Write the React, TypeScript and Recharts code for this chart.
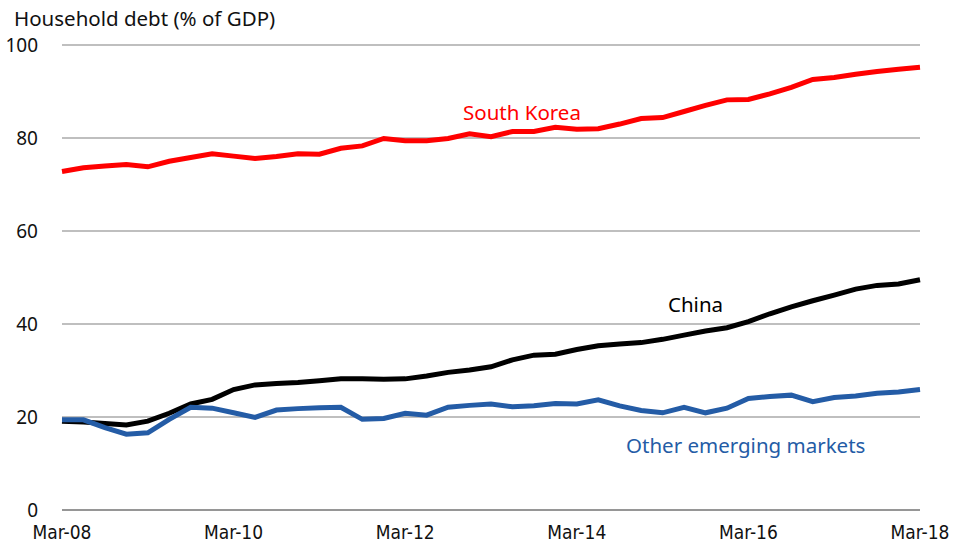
import { LineChart, Line, XAxis, YAxis, CartesianGrid } from 'recharts';

const quarters = [
  'Mar-08', 'Jun-08', 'Sep-08', 'Dec-08',
  'Mar-09', 'Jun-09', 'Sep-09', 'Dec-09',
  'Mar-10', 'Jun-10', 'Sep-10', 'Dec-10',
  'Mar-11', 'Jun-11', 'Sep-11', 'Dec-11',
  'Mar-12', 'Jun-12', 'Sep-12', 'Dec-12',
  'Mar-13', 'Jun-13', 'Sep-13', 'Dec-13',
  'Mar-14', 'Jun-14', 'Sep-14', 'Dec-14',
  'Mar-15', 'Jun-15', 'Sep-15', 'Dec-15',
  'Mar-16', 'Jun-16', 'Sep-16', 'Dec-16',
  'Mar-17', 'Jun-17', 'Sep-17', 'Dec-17',
  'Mar-18',
];

const southKorea = [
  72.8, 73.6, 74.0, 74.3, 73.8, 75.0, 75.8, 76.6, 76.1, 75.6,
  76.0, 76.6, 76.5, 77.8, 78.3, 79.9, 79.4, 79.4, 79.9, 80.9,
  80.3, 81.4, 81.4, 82.3, 81.9, 82.0, 83.0, 84.2, 84.4, 85.7,
  87.0, 88.2, 88.3, 89.5, 90.9, 92.6, 93.0, 93.7, 94.3, 94.8,
  95.2,
];

const china = [
  19.1, 18.9, 18.6, 18.3, 19.1, 20.8, 22.8, 23.8, 25.9, 26.9,
  27.2, 27.4, 27.8, 28.2, 28.2, 28.1, 28.2, 28.8, 29.6, 30.1,
  30.8, 32.3, 33.3, 33.5, 34.5, 35.3, 35.7, 36.0, 36.7, 37.6,
  38.5, 39.2, 40.5, 42.2, 43.7, 45.0, 46.2, 47.5, 48.3, 48.6,
  49.5,
];

const otherEM = [
  19.4, 19.4, 17.7, 16.3, 16.6, 19.5, 22.1, 21.9, 20.9, 19.9,
  21.5, 21.8, 22.0, 22.1, 19.5, 19.7, 20.8, 20.4, 22.1, 22.5,
  22.8, 22.2, 22.4, 22.9, 22.8, 23.7, 22.4, 21.4, 20.9, 22.1,
  20.9, 21.9, 24.0, 24.4, 24.7, 23.3, 24.2, 24.5, 25.1, 25.4,
  25.9,
];

const xTicks = ['Mar-08', 'Mar-10', 'Mar-12', 'Mar-14', 'Mar-16', 'Mar-18'];
const yTicks = [0, 20, 40, 60, 80, 100];

const data = quarters.map((q, i) => ({
  quarter: q,
  southKorea: southKorea[i],
  china: china[i],
  otherEM: otherEM[i],
}));

const sans = '"Noto Sans", "Open Sans", sans-serif';
const narrow = '"Liberation Sans Narrow", "DejaVu Sans Condensed", sans-serif';

const label = (left: number, top: number, color: string, text: string) => (
  <div
    style={{
      position: 'absolute',
      left,
      top,
      color,
      fontFamily: sans,
      fontSize: 20.5,
      lineHeight: '26px',
      whiteSpace: 'nowrap',
    }}
  >
    {text}
  </div>
);

export default function App() {
  return (
    <div style={{ position: 'absolute', left: 0, top: 0, width: 955, height: 547, background: '#fff' }}>
      <LineChart
        width={955}
        height={547}
        data={data}
        margin={{ top: 45, right: 35, left: 0, bottom: 5 }}
      >
        <CartesianGrid vertical={false} stroke="#aaaaaa" strokeWidth={1.5} />
        <XAxis
          dataKey="quarter"
          ticks={xTicks}
          interval={0}
          axisLine={{ stroke: '#888888', strokeWidth: 1.5 }}
          tickLine={false}
          height={32}
          tick={{ fill: '#111', fontSize: 19, fontFamily: narrow }}
          tickMargin={10}
        />
        <YAxis
          domain={[0, 100]}
          ticks={yTicks}
          width={62}
          axisLine={false}
          tickLine={false}
          tickMargin={18}
          tick={{ fill: '#111', fontSize: 19, fontFamily: sans }}
        />
        <Line
          type="linear"
          dataKey="southKorea"
          stroke="#ff0000"
          strokeWidth={5}
          dot={false}
          isAnimationActive={false}
        />
        <Line
          type="linear"
          dataKey="china"
          stroke="#000000"
          strokeWidth={5}
          dot={false}
          isAnimationActive={false}
        />
        <Line
          type="linear"
          dataKey="otherEM"
          stroke="#245ca6"
          strokeWidth={5}
          dot={false}
          isAnimationActive={false}
        />
      </LineChart>
      {label(14, 5, '#111', 'Household debt (% of GDP)')}
      {label(463, 99, '#ff0000', 'South Korea')}
      {label(668, 291, '#000000', 'China')}
      {label(626, 432, '#245ca6', 'Other emerging markets')}
    </div>
  );
}
